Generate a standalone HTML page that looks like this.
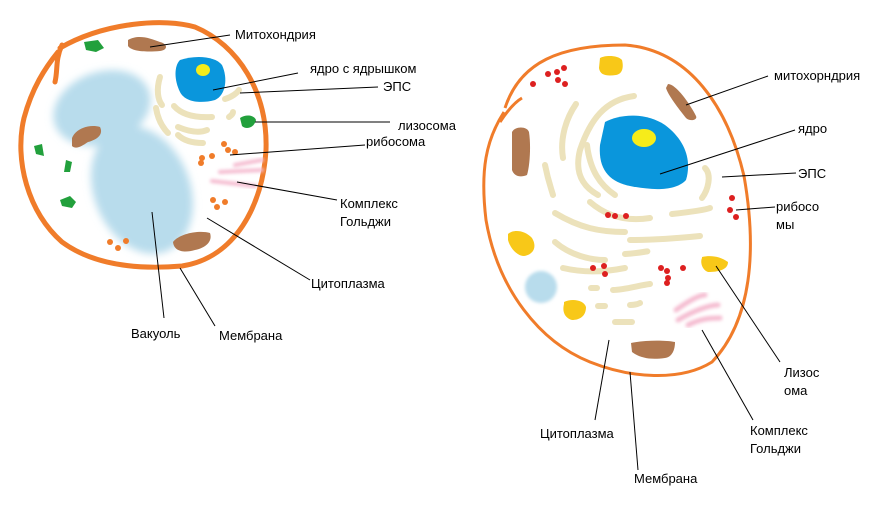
<!DOCTYPE html>
<html><head><meta charset="utf-8"><style>
html,body{margin:0;padding:0;background:#fff;width:884px;height:508px;overflow:hidden}
svg{display:block}
text{font-family:"Liberation Sans",sans-serif;font-size:13px;fill:#000}
</style></head><body>
<svg width="884" height="508" viewBox="0 0 884 508" xmlns="http://www.w3.org/2000/svg">
<defs>
<filter id="blur" x="-20%" y="-20%" width="140%" height="140%"><feGaussianBlur stdDeviation="4"/></filter>
<filter id="blur2"><feGaussianBlur stdDeviation="1.5"/></filter>
</defs>
<!-- LEFT CELL -->
<g filter="url(#blur)" fill="#b8dcec">
<ellipse cx="102" cy="108" rx="50" ry="36" transform="rotate(-20 102 108)"/>
<ellipse cx="142" cy="190" rx="48" ry="66" transform="rotate(-22 142 190)"/>
</g>
<path d="M60,48 C105,22 165,18 195,27 C238,45 268,92 266,150 C263,205 235,258 182,266 C135,270 92,264 62,242 C28,212 14,160 24,118 C32,88 45,68 58,52 M62,45 C55,60 58,70 55,82" fill="none" stroke="#f07c2a" stroke-width="5" stroke-linejoin="round" stroke-linecap="round"/>
<!-- nucleus -->
<path d="M180,60 C195,55 215,56 222,65 C228,78 226,95 215,100 C200,104 185,102 180,92 C174,80 174,66 180,60Z" fill="#0a96dc"/>
<ellipse cx="203" cy="70" rx="7" ry="6" fill="#f6ec1a"/>
<!-- ER -->
<g fill="none" stroke="#ece2bb" stroke-width="6" stroke-linecap="round">
<path d="M160,77 C156,90 158,100 162,105"/>
<path d="M156,108 C158,120 163,128 168,133"/>
<path d="M174,106 C182,115 195,118 212,117"/>
<path d="M178,127 C190,132 200,133 207,130"/>
<path d="M178,135 C185,142 195,143 203,143"/>
<path d="M225,99 C232,97 237,93 239,90"/>
<path d="M229,117 C232,115 233,113 233,112"/>
</g>
<!-- mitochondria -->
<g fill="#b07850">
<path d="M128,40 C138,34 150,38 160,42 C168,44 168,50 160,51 C148,52 132,52 128,46Z"/>
<path d="M72,138 C76,128 90,124 100,127 C104,135 96,140 88,142 C82,146 76,150 72,146Z"/>
<path d="M173,242 C180,233 200,230 210,233 C213,242 205,248 195,250 C185,253 174,252 173,242Z"/>
</g>
<!-- green lysosomes -->
<g fill="#22a03c">
<path d="M84,42 L98,40 L104,48 L96,52 L86,50Z"/>
<path d="M240,118 C246,114 254,115 256,120 C254,128 246,130 242,126Z"/>
<path d="M34,146 L42,144 L44,156 L36,154Z"/>
<path d="M66,160 L72,162 L70,172 L64,172Z"/>
<path d="M60,200 L70,196 L76,202 L72,208 L62,206Z"/>
</g>
<!-- ribosomes orange -->
<g fill="#f07c2a">
<circle cx="224" cy="144" r="3"/><circle cx="228" cy="150" r="3"/><circle cx="235" cy="152" r="3"/>
<circle cx="202" cy="158" r="3"/><circle cx="212" cy="156" r="3"/><circle cx="201" cy="163" r="3"/>
<circle cx="213" cy="200" r="3"/><circle cx="225" cy="202" r="3"/><circle cx="217" cy="207" r="3"/>
<circle cx="110" cy="242" r="3"/><circle cx="126" cy="241" r="3"/><circle cx="118" cy="248" r="3"/>
</g>
<!-- golgi -->
<g filter="url(#blur2)" fill="none" stroke="#f5bcd0" stroke-width="4" stroke-linecap="round">
<path d="M235,165 L262,160"/><path d="M220,172 L262,170"/><path d="M212,181 L255,186"/>
</g>
<!-- RIGHT CELL -->
<circle cx="541" cy="287" r="16" fill="#b8dcec" filter="url(#blur2)"/>
<path d="M505,108 C520,62 560,45 625,45 C690,50 728,108 744,176 C757,250 752,320 712,362 C680,382 630,378 590,362 C540,342 498,290 486,220 C480,170 486,140 504,112 M500,122 C508,110 515,102 522,98" fill="none" stroke="#f07c2a" stroke-width="3" stroke-linejoin="round"/>
<path d="M605,122 C620,114 645,112 665,125 C685,140 692,160 686,180 C675,192 650,190 630,186 C610,182 598,170 600,145Z" fill="#0a96dc"/>
<ellipse cx="644" cy="138" rx="12" ry="9" fill="#f6ec1a"/>
<g fill="none" stroke="#ece2bb" stroke-width="6" stroke-linecap="round">
<path d="M576,104 C565,120 560,140 563,158"/>
<path d="M634,96 C605,100 590,120 580,150 C575,170 580,185 598,195"/>
<path d="M545,165 C548,180 550,185 553,195"/>
<path d="M587,145 C590,170 600,185 615,195"/>
<path d="M705,168 C712,175 708,190 702,198"/>
<path d="M555,213 C580,228 600,232 625,232"/>
<path d="M590,202 C605,215 625,222 650,218"/>
<path d="M672,214 C690,212 705,210 710,208"/>
<path d="M630,240 C650,240 680,238 700,236"/>
<path d="M555,242 C570,255 590,260 605,260"/>
<path d="M625,254 C640,253 655,250 643,252"/>
<path d="M563,268 C580,272 600,273 625,268"/>
<path d="M613,290 C625,290 640,285 650,284"/>
<path d="M591,288 C594,288 595,288 597,288"/>
<path d="M598,306 C603,306 605,306 605,306"/>
<path d="M630,305 C635,305 638,304 640,303"/>
<path d="M615,322 C623,322 630,322 632,322"/>
</g>
<g fill="#b07850">
<path d="M668,84 C676,84 690,104 696,116 C698,120 690,122 686,118 C678,108 668,95 666,88Z"/>
<path d="M512,132 C515,126 527,126 529,132 C531,145 530,165 527,175 C520,178 514,176 512,170Z"/>
<path d="M631,343 C645,340 665,340 675,342 C675,350 672,357 665,358 C650,360 640,358 632,352Z"/>
</g>
<g fill="#f8c818">
<path d="M600,58 C605,55 618,55 622,60 C624,68 622,74 616,75 C608,76 600,76 599,68Z"/>
<path d="M508,234 C513,229 525,230 532,238 C538,248 532,255 524,256 C517,256 510,248 508,240Z"/>
<path d="M564,302 C572,298 584,300 586,307 C586,316 580,320 572,320 C565,318 562,312 564,304Z"/>
<path d="M702,257 C710,255 720,256 728,262 C728,270 718,272 708,272 C702,270 700,262 702,258Z"/>
</g>
<g fill="#dd2020">
<circle cx="548" cy="74" r="3"/><circle cx="557" cy="72" r="3"/><circle cx="564" cy="68" r="3"/><circle cx="558" cy="80" r="3"/><circle cx="565" cy="84" r="3"/><circle cx="533" cy="84" r="3"/>
<circle cx="732" cy="198" r="3"/><circle cx="730" cy="210" r="3"/><circle cx="736" cy="217" r="3"/>
<circle cx="608" cy="215" r="3"/><circle cx="615" cy="216" r="3"/><circle cx="626" cy="216" r="3"/>
<circle cx="593" cy="268" r="3"/><circle cx="604" cy="266" r="3"/><circle cx="605" cy="274" r="3"/>
<circle cx="661" cy="268" r="3"/><circle cx="667" cy="271" r="3"/><circle cx="668" cy="278" r="3"/><circle cx="683" cy="268" r="3"/><circle cx="667" cy="283" r="3"/>
</g>
<g filter="url(#blur2)" fill="none" stroke="#f5bcd0" stroke-width="5" stroke-linecap="round">
<path d="M676,310 C690,300 700,295 705,295"/><path d="M678,320 C695,310 710,305 718,305"/><path d="M688,325 C702,318 712,318 720,318"/>
</g>
<!-- leader lines -->
<g stroke="#000" stroke-width="1" fill="none">
<line x1="150" y1="47" x2="230" y2="35"/>
<line x1="213" y1="90" x2="298" y2="73"/>
<line x1="240" y1="93" x2="378" y2="87"/>
<line x1="255" y1="122" x2="390" y2="122"/>
<line x1="230" y1="155" x2="365" y2="145"/>
<line x1="237" y1="182" x2="337" y2="200"/>
<line x1="207" y1="218" x2="310" y2="280"/>
<line x1="152" y1="212" x2="164" y2="318"/>
<line x1="180" y1="268" x2="215" y2="326"/>
<line x1="686" y1="105" x2="768" y2="76"/>
<line x1="660" y1="174" x2="795" y2="130"/>
<line x1="722" y1="177" x2="796" y2="173"/>
<line x1="736" y1="210" x2="775" y2="207"/>
<line x1="716" y1="266" x2="780" y2="362"/>
<line x1="702" y1="330" x2="753" y2="420"/>
<line x1="609" y1="340" x2="595" y2="420"/>
<line x1="630" y1="372" x2="638" y2="470"/>
</g>
<text x="235" y="39">Митохондрия</text>
<text x="310" y="73">ядро с ядрышком</text>
<text x="383" y="91">ЭПС</text>
<text x="398" y="130">лизосома</text>
<text x="366" y="146">рибосома</text>
<text x="340" y="208">Комплекс</text>
<text x="340" y="226">Гольджи</text>
<text x="311" y="288">Цитоплазма</text>
<text x="131" y="338">Вакуоль</text>
<text x="219" y="340">Мембрана</text>
<text x="774" y="80">митохорндрия</text>
<text x="798" y="133">ядро</text>
<text x="798" y="178">ЭПС</text>
<text x="776" y="211">рибосо</text>
<text x="776" y="229">мы</text>
<text x="784" y="377">Лизос</text>
<text x="784" y="395">ома</text>
<text x="750" y="435">Комплекс</text>
<text x="750" y="453">Гольджи</text>
<text x="540" y="438">Цитоплазма</text>
<text x="634" y="483">Мембрана</text>
</svg>
</body></html>
